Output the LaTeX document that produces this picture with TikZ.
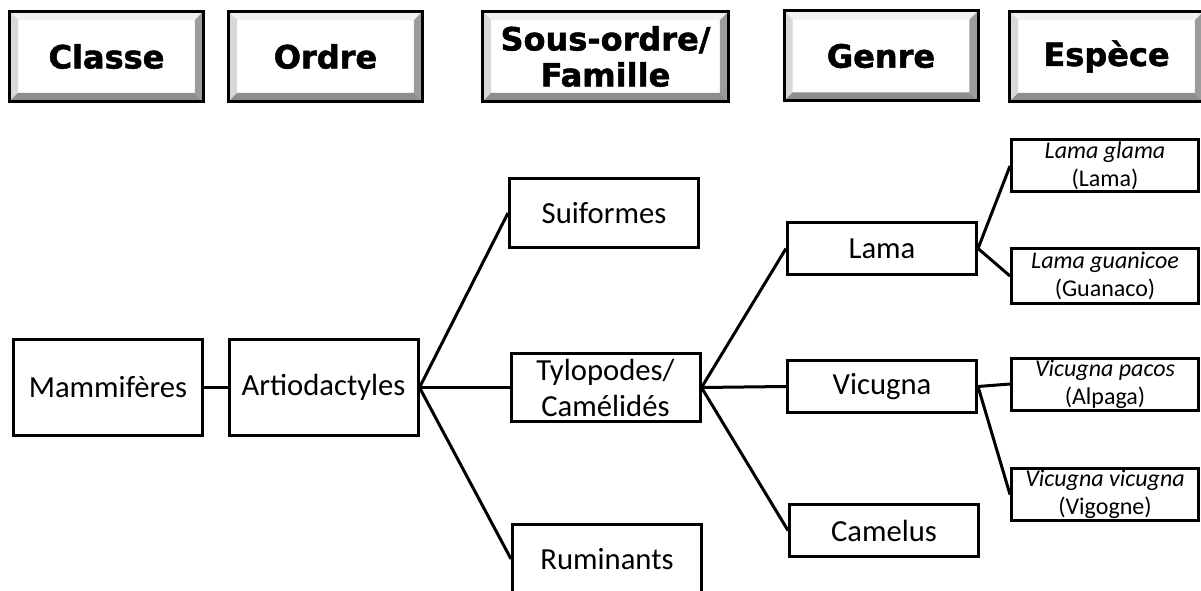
\documentclass[tikz,border=0pt]{standalone}
\usepackage{fontspec}
\setmainfont{Carlito}
\newfontfamily\headfont{DejaVu Sans}[BoldFeatures = {FakeBold = 1.6}]
\usetikzlibrary{calc}
\definecolor{bevtop}{HTML}{F0F0F0}
\definecolor{bevleft}{HTML}{D8D8D8}
\definecolor{bevright}{HTML}{9C9C9C}
\definecolor{bevbottom}{HTML}{8E8E8E}

\begin{document}
\begin{tikzpicture}[x = 0.75pt, y = -0.75pt,
    rang/.style = {draw, line width = 2.25pt, fill = white, inner sep = 0pt,
        minimum width = 145.5pt, minimum height = 67.5pt, align = center,
        font = \headfont\bfseries\fontsize{24}{27}\selectfont,
        path picture = {
            \fill[bevtop](path picture bounding box.north west)--(path picture bounding box.north east)
                --([shift = {(-6.5pt,-6.5pt)}]path picture bounding box.north east)
                --([shift = {(6.5pt,-6.5pt)}]path picture bounding box.north west)--cycle;
            \fill[bevleft](path picture bounding box.north west)--(path picture bounding box.south west)
                --([shift = {(6.5pt,6.5pt)}]path picture bounding box.south west)
                --([shift = {(6.5pt,-6.5pt)}]path picture bounding box.north west)--cycle;
            \fill[bevright](path picture bounding box.north east)--(path picture bounding box.south east)
                --([shift = {(-6.5pt,6.5pt)}]path picture bounding box.south east)
                --([shift = {(-6.5pt,-6.5pt)}]path picture bounding box.north east)--cycle;
            \fill[bevbottom](path picture bounding box.south west)--(path picture bounding box.south east)
                --([shift = {(-6.5pt,6.5pt)}]path picture bounding box.south east)
                --([shift = {(6.5pt,6.5pt)}]path picture bounding box.south west)--cycle;
        }},
    taxon/.style = {draw, line width = 2.25pt, fill = white, inner sep = 0pt,
        minimum width = 141.75pt, align = center, font = \fontsize{23}{27}\selectfont},
    espece/.style = {draw, line width = 2.25pt, fill = white, inner sep = 0pt,
        minimum width = 140.25pt, minimum height = 39pt, align = center,
        font = \fontsize{18}{21}\selectfont},
    lien/.style = {draw, line width = 2.25pt}]
            \useasboundingbox(0,0)rectangle(1201,591);
            \clip(0,0)rectangle(1201,591);
            % rangs
            \node[rang](classe)at(106.5,56.5){Classe};
            \node[rang](ordre)at(325.5,56.5){Ordre};
            \node[rang, minimum width = 184.5pt](famille)at(605.5,56.5){Sous-ordre/\\Famille};
            \node[rang](genre)at(881,56){Genre};
            \node[rang](espece)at(1106.5,56.5){Espèce};
            % classe, ordre
            \node[taxon, minimum height = 72pt](mammi)at(108,387.5){Mammifères};
            \node[taxon, minimum height = 72pt](artio)at(323.5,387.5){Artiodactyles};
            % sous-ordres
            \node[taxon, minimum height = 51.75pt](suif)at(604,213){Suiformes};
            \node[taxon, minimum height = 51pt](tylo)at(605.5,387.5){Tylopodes/\\Camélidés};
            \node[taxon, minimum height = 51.75pt](rumi)at(607,559){Ruminants};
            % genres
            \node[taxon, minimum height = 39pt](lama)at(882,248.5){Lama};
            \node[taxon, minimum height = 39pt](vicu)at(882,386.5){Vicugna};
            \node[taxon, minimum height = 39pt](came)at(884,530.5){Camelus};
            % especes
            \node[espece](glama)at(1105,166){\textit{Lama glama}\\(Lama)};
            \node[espece, minimum height = 40.5pt](guani)at(1105,276){\textit{Lama guanicoe}\\(Guanaco)};
            \node[espece](pacos)at(1105,384){\textit{Vicugna pacos}\\(Alpaga)};
            \node[espece](vigo)at(1105,494.5){\textit{Vicugna vicugna}\\(Vigogne)};
            % liens
            \path[lien](mammi)to(artio);
            \path[lien](artio.east)to(suif.west);
            \path[lien](artio.east)to(tylo.west);
            \path[lien](artio.east)to(rumi.west);
            \path[lien](tylo.east)to(lama.west);
            \path[lien](tylo.east)to(vicu.west);
            \path[lien](tylo.east)to(came.west);
            \path[lien](lama.east)to(glama.west);
            \path[lien](lama.east)to(guani.west);
            \path[lien](vicu.east)to(pacos.west);
            \path[lien](vicu.east)to(vigo.west);
        \end{tikzpicture}
\end{document}
